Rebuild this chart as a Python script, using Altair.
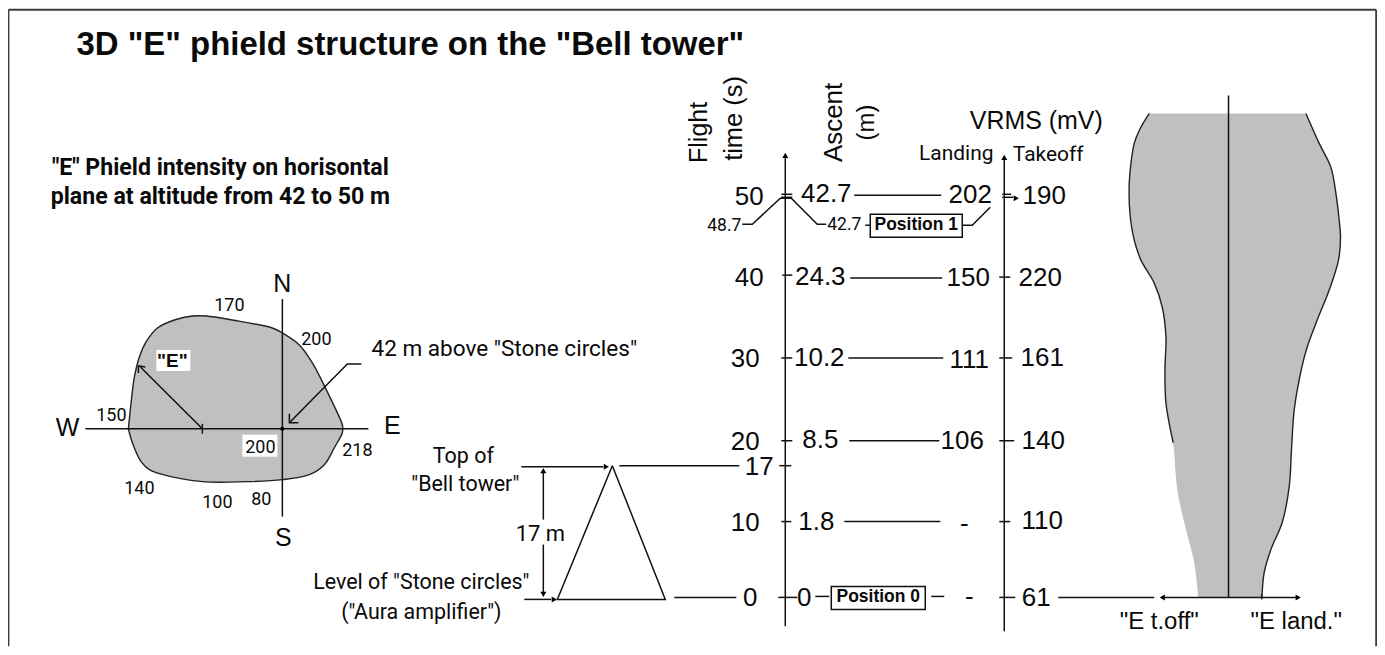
import altair as alt
import pandas as pd

W, H = 1372, 639
X = alt.X("x:Q", scale=alt.Scale(domain=[8.6, 8 + W - 2.2], zero=False, nice=False), axis=None)
Y = alt.Y("y:Q", scale=alt.Scale(domain=[8 + H, 8], zero=False, nice=False), axis=None)

# ---- shapes: gray outlines ----
blob_top_x = [129, 131.7, 135, 140, 146.7, 158, 175, 193, 207, 233, 273, 283, 300, 313, 327, 343, 343.3]
blob_top_y = [429, 403, 377, 357, 342, 328, 320, 316, 316, 320, 328, 333, 345, 363, 390, 425, 429]
blob_bot_x = [129, 133, 141.7, 150, 160, 203, 247, 283, 310, 325, 335, 343, 343.3]
blob_bot_y = [429, 443, 462, 470, 474, 482, 482, 480, 475, 465, 448, 433, 429]
blob_axis = [429]

prof_left_y = [113, 130, 143, 163, 183, 213, 240, 260, 283, 307, 337, 370, 403, 443, 490, 530, 563, 598]
prof_left_x = [1150, 1140, 1135, 1131.7, 1130, 1130.7, 1135, 1141.7, 1155, 1163, 1166.7, 1165.7, 1166.7, 1174, 1178, 1186.7, 1195, 1199]
prof_right_y = [113, 143, 167, 193, 220, 237, 260, 290, 320, 347, 367, 410, 450, 487, 523, 550, 573, 598]
prof_right_x = [1306.7, 1320, 1331.7, 1336.7, 1340, 1341.3, 1339.3, 1330, 1318, 1308, 1302.7, 1295, 1292.3, 1290, 1283, 1271.7, 1265, 1262.7]
prof_center = [1229.3]

# ---- line work: each entry is a polyline (xs, ys) ----
polylines = [
    ([86, 369], [429, 429]), ([283, 283], [299, 517]), ([203, 203], [424, 434]),
    ([203, 141], [429, 367]), ([146, 139, 139], [367, 366, 373]),
    ([362, 348, 291], [364, 364, 422]), ([299, 290, 290], [423, 423, 414]),
    ([522, 604], [467, 467]), ([620, 740], [466, 466]),
    ([613, 558, 666, 613], [466, 600, 600, 466]),
    ([544, 544], [472, 520]), ([544, 544], [545, 596]),
    ([525, 552], [600, 600]), ([675, 737], [598, 598]),
    ([786, 786], [157, 627]), ([1005, 1005], [159, 632]),
    ([782, 793], [194, 194]), ([782, 793], [197, 197]),
    ([783, 793], [275, 275]), ([782, 793], [358, 358]), ([782, 793], [441, 441]),
    ([780, 792], [466, 466]), ([782, 792], [522, 522]), ([779, 798], [598, 598]),
    ([855, 942], [195, 195]), ([851, 943], [278, 278]), ([849, 944], [358, 358]),
    ([850, 940], [441, 441]), ([845, 941], [522, 522]),
    ([816, 830], [597, 597]), ([932, 945], [597, 597]),
    ([743, 753, 781, 792, 818, 827], [224, 224, 198, 198, 224, 224]),
    ([866, 871], [225, 225]), ([963, 973, 991], [225, 225, 207]),
    ([1003, 1012], [194, 194]), ([1003, 1014], [197, 197]),
    ([1000, 1011], [277, 277]), ([1000, 1013], [358, 358]), ([1000, 1015], [441, 441]),
    ([1000, 1011], [522, 522]), ([1000, 1016], [598, 598]),
    ([1059, 1155], [598, 598]), ([1163, 1299], [598, 598]),
    ([1229.3, 1229.3], [95, 598]), ([1262.5, 1262.5], [595, 600]),
]
frame = [([9, 9], [9, 647]), ([9, 1377], [9, 9]), ([1377, 1377], [9, 647])]
outlines = [
    (blob_top_x, blob_top_y), (blob_bot_x, blob_bot_y),
    (prof_left_x[:14], prof_left_y[:14]), (prof_right_x, prof_right_y),
]

# ---- boxes ----
white_boxes = [(243, 435, 278, 457), (157, 350, 191, 371)]
framed_boxes = [(871, 214, 963, 237), (832, 587, 926, 610)]

# ---- arrow heads ----
heads = [
    (786, 155, "triangle-up"), (1005, 157, "triangle-up"), (1017, 198, "triangle-right"),
    (607, 467, "triangle-right"), (555, 600, "triangle-right"),
    (544, 471, "triangle-up"), (544, 595, "triangle-down"),
    (1163, 598, "triangle-left"), (1299, 598, "triangle-right"),
]
dots = [(283, 429)]

# ---- text: (x, y, text, size, angle) by font style ----
REG = "Liberation Sans"
NAR = "Roboto"
texts_regular = [
    (750, 197, "50", 26, 0), (750, 278, "40", 26, 0), (746, 359, "30", 26, 0), (746, 442, "20", 26, 0),
    (760, 467, "17", 26, 0), (746, 523, "10", 26, 0), (751, 599, "0", 26, 0),
    (827, 194, "42.7", 26, 0), (821, 277, "24.3", 26, 0), (820, 358, "10.2", 26, 0),
    (821, 440, "8.5", 26, 0), (817, 522, "1.8", 26, 0), (805, 599, "0", 26, 0),
    (971, 195, "202", 26, 0), (969, 278, "150", 26, 0), (970, 360, "111", 26, 0),
    (963, 441, "106", 26, 0), (965, 524, "-", 26, 0), (970, 598, "-", 26, 0),
    (1045, 196, "190", 26, 0), (1041, 278, "220", 26, 0), (1043, 358, "161", 26, 0),
    (1044, 441, "140", 26, 0), (1043, 521, "110", 26, 0), (1037, 599, "61", 26, 0),
    (1037, 121, "VRMS (mV)", 25, 0),
    (700, 132, "Flight", 25, 270), (735, 118, "time (s)", 25.5, 270),
    (835, 122, "Ascent", 26, 270), (868, 122, "(m)", 24, 270),
    (283, 284, "N", 25, 0), (68, 428, "W", 25, 0), (393, 426, "E", 25, 0), (284, 538, "S", 25, 0),
    (1160, 623, '"E t.off"', 24, 0), (1297, 623, '"E land."', 24, 0),
]
texts_narrow = [
    (957, 154, "Landing", 21, 0), (1049, 155, "Takeoff", 21, 0),
    (230, 306, "170", 18, 0), (317, 340, "200", 18, 0), (112, 416, "150", 18, 0),
    (358, 451, "218", 18, 0), (261, 448, "200", 18, 0), (140, 489, "140", 18, 0),
    (218, 503, "100", 18, 0), (262, 500, "80", 18, 0),
    (505, 349, '42 m above "Stone circles"', 22.6, 0),
    (464, 457, "Top of", 21.5, 0), (466, 485, '"Bell tower"', 21.5, 0), (541, 534, "17 m", 22, 0),
    (422, 584, 'Level of "Stone circles"', 21.5, 0), (422, 614, '("Aura amplifier")', 21.5, 0),
    (725, 226, "48.7", 17.5, 0), (845, 225, "42.7", 17.5, 0),
]
texts_bold = [(411, 44, '3D "E" phield structure on the "Bell tower"', 33, 0),
              (917, 225, "Position 1", 17.5, 0), (879, 598, "Position 0", 17.5, 0),
              (173, 361, '"E"', 19, 0)]
texts_bold_narrow = [(221, 168, '"E" Phield intensity on horisontal', 23.2, 0),
                     (221, 197, "plane at altitude from 42 to 50 m", 23.2, 0)]


def lines_df(items):
    rows = []
    for g, (xs, ys) in enumerate(items):
        for i, (a, b) in enumerate(zip(xs, ys)):
            rows.append({"g": g, "i": i, "x": a, "y": b})
    return pd.DataFrame(rows)


def line_layer(items, color, width, interpolate="linear"):
    return alt.Chart(lines_df(items)).mark_line(color=color, strokeWidth=width, clip=False,
                                                interpolate=interpolate).encode(
        x=X, y=Y, detail="g:N", order="i:Q")


def area_layer(xs, ys, base):
    d = pd.DataFrame({"x": xs, "y": ys, "y2": base * len(xs)})
    return alt.Chart(d).mark_area(color="#c0c0c0", opacity=1, orient="vertical",
                                  interpolate="catmull-rom").encode(
        x=X, y=Y, y2="y2:Q")


def side_layer(xs, ys, base):
    d = pd.DataFrame({"x": xs, "y": ys, "x2": base * len(xs)})
    return alt.Chart(d).mark_area(color="#c0c0c0", opacity=1, orient="horizontal",
                                  interpolate="catmull-rom").encode(
        x=X, y=Y, x2="x2:Q")


def box_layer(boxes, fill, stroke=None):
    d = pd.DataFrame(boxes, columns=["x", "y", "x2", "y2"])
    kw = dict(fill=fill)
    if stroke:
        kw.update(stroke=stroke, strokeWidth=1.5)
    return alt.Chart(d).mark_rect(**kw).encode(x=X, y=Y, x2="x2:Q", y2="y2:Q")


def text_layer(rows, font, weight):
    d = pd.DataFrame(rows, columns=["x", "y", "t", "s", "a"])
    return alt.Chart(d).mark_text(font=font, fontWeight=weight, color="#0a0a0a",
                                  align="center", baseline="middle").encode(
        x=X, y=Y, text="t:N", size=alt.Size("s:Q", scale=None), angle=alt.Angle("a:Q", scale=None))


head_df = pd.DataFrame(heads, columns=["x", "y", "shape"])
head_layer = alt.Chart(head_df).mark_point(filled=True, color="#000", size=36, opacity=1).encode(
    x=X, y=Y, shape=alt.Shape("shape:N", scale=None))
dot_df = pd.DataFrame(dots, columns=["x", "y"])
dot_layer = alt.Chart(dot_df).mark_point(filled=True, color="#000", size=18, opacity=1).encode(x=X, y=Y)

chart = alt.layer(
    line_layer(frame, "#3c3c3c", 2),
    area_layer(blob_top_x, blob_top_y, blob_axis),
    area_layer(blob_bot_x, blob_bot_y, blob_axis),
    side_layer(prof_left_x, prof_left_y, prof_center),
    side_layer(prof_right_x, prof_right_y, prof_center),
    line_layer(outlines, "#222", 1.4, "catmull-rom"),
    line_layer(polylines, "#111", 1.5),
    box_layer(white_boxes, "#ffffff"),
    box_layer(framed_boxes, "#ffffff", "#111"),
    head_layer, dot_layer,
    text_layer(texts_regular, REG, "normal"),
    text_layer(texts_narrow, NAR, "normal"),
    text_layer(texts_bold, REG, "bold"),
    text_layer(texts_bold_narrow, NAR, "bold"),
).properties(
    width=W, height=H, padding=0, background="#ffffff",
    autosize=alt.AutoSizeParams(type="none", contains="content"),
).configure_view(stroke=None)

chart.save("out.html", embed_options={"renderer": "svg", "actions": False})
